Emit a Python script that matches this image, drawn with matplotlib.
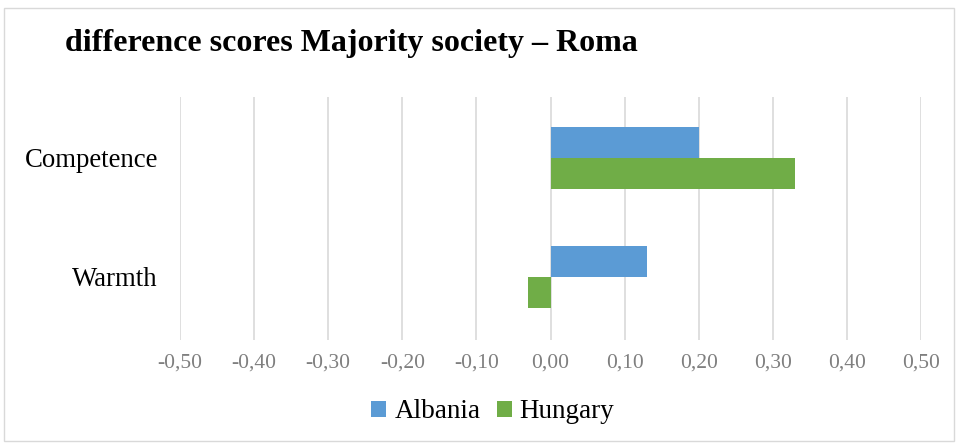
import matplotlib
matplotlib.use("Agg")
import matplotlib.pyplot as plt
from matplotlib.patches import Rectangle
import numpy as np

categories = ["Warmth", "Competence"]
albania = [0.13, 0.20]
hungary = [-0.03, 0.33]
xticks = [-0.5, -0.4, -0.3, -0.2, -0.1, 0.0, 0.1, 0.2, 0.3, 0.4, 0.5]
xtick_labels = ["-0,50", "-0,40", "-0,30", "-0,20", "-0,10", "0,00", "0,10", "0,20", "0,30", "0,40", "0,50"]
title = "difference scores Majority society \u2013 Roma"

plt.rcParams['font.family'] = ['Liberation Serif', 'DejaVu Serif']

fig = plt.figure(figsize=(9.58, 4.45), dpi=100)
ax = fig.add_axes([180/958, 1-340/445, (921-180)/958, (340-97)/445])

y = np.arange(len(categories))
h = 0.26
ax.barh(y + h/2, albania, height=h, color="#5B9BD5", label="Albania", zorder=3)
ax.barh(y - h/2, hungary, height=h, color="#70AD47", label="Hungary", zorder=3)

ax.set_xlim(-0.5, 0.5)
ax.set_ylim(-0.53, 1.51)
ax.set_xticks(xticks)
ax.set_xticklabels(xtick_labels)
ax.set_yticks(y)
ax.set_yticklabels(categories)
ax.tick_params(axis='x', length=0, labelsize=15.5, labelcolor="#7F7F7F", pad=10)
ax.tick_params(axis='y', length=0, labelsize=19.3, labelcolor="black", pad=16)
ax.grid(axis='x', color="#D9D9D9", linewidth=1.2, zorder=0)
for s in ax.spines.values():
    s.set_visible(False)

fig.text(65/958, 1-43/445, title, fontsize=23, fontweight='bold', va='center', ha='left')

leg = fig.legend(loc='center', bbox_to_anchor=(493/958, 1-412/445), ncol=2, frameon=False,
                 fontsize=19.5, handlelength=0.55, handleheight=0.55, handletextpad=0.3,
                 columnspacing=0.6, borderpad=0)

fig.patches.append(Rectangle((4/958, 1-441/445), (954-4)/958, (441-8)/445, transform=fig.transFigure,
                             fill=False, edgecolor="#D9D9D9", linewidth=1))

fig.savefig("out.png", dpi=100)
